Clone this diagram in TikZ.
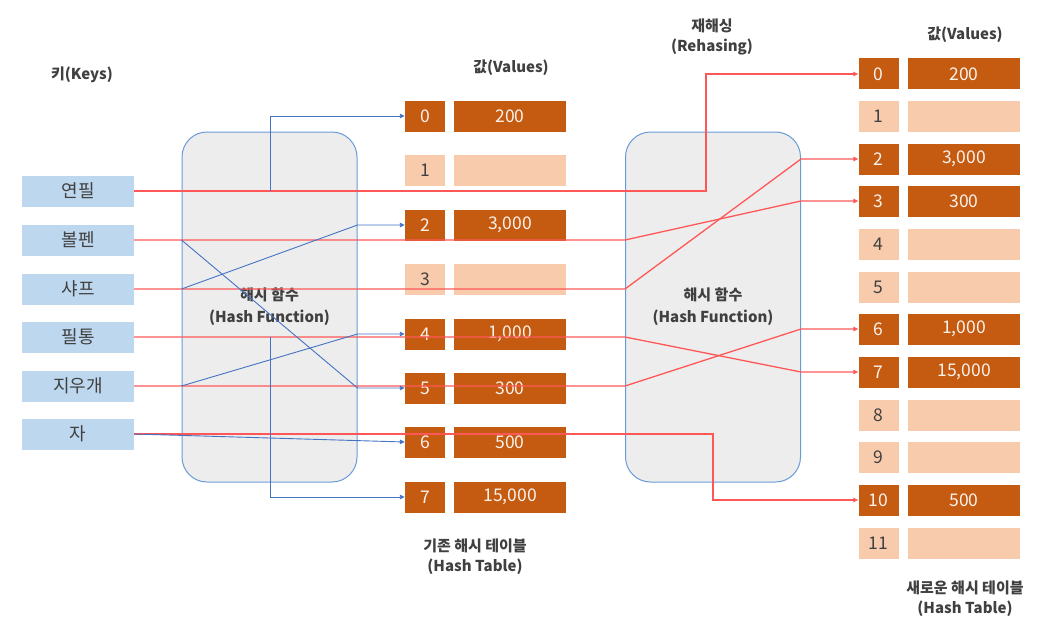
\documentclass[tikz,border=0pt]{standalone}
\usepackage{fontspec}
\setmainfont{Noto Sans CJK KR}
\usetikzlibrary{arrows.meta,calc}
\definecolor{keyblue}{HTML}{BDD7EE}
\definecolor{darkor}{HTML}{C55A11}
\definecolor{lightor}{HTML}{F8CBAD}
\definecolor{hashfill}{HTML}{EDEDED}
\definecolor{hashline}{HTML}{6A9BD8}
\definecolor{bluecol}{HTML}{4472C4}
\definecolor{redcol}{HTML}{FF5757}
\definecolor{txt}{HTML}{404040}
\begin{document}
\begin{tikzpicture}[x=1pt,y=-1pt,
  keybox/.style={fill=keyblue, minimum width=112pt, minimum height=31pt, inner sep=0pt, text=txt, font=\fontsize{18}{20}\selectfont},
  slotbase/.style={minimum height=31pt, inner sep=0pt, font=\fontsize{17.5}{20}\selectfont},
  idxfull/.style={slotbase, fill=darkor, minimum width=40pt, text=white!92!darkor},
  idxempty/.style={slotbase, fill=lightor, minimum width=40pt, text=txt},
  valfull/.style={slotbase, fill=darkor, minimum width=112pt, text=white!92!darkor},
  valempty/.style={slotbase, fill=lightor, minimum width=112pt, text=txt},
  hashbox/.style={draw=hashline, fill=hashfill, rounded corners=25pt, minimum width=175pt, minimum height=350pt, line width=1pt, align=center, text=txt, font=\bfseries\fontsize{15}{22}\selectfont},
  lbl/.style={font=\bfseries\fontsize{15}{20}\selectfont, text=txt, align=center},
  barrow/.style={draw=bluecol, line width=0.9pt, -{Triangle[length=5pt,width=4.5pt]}},
  rarrow/.style={draw=redcol, line width=1.3pt, -{Triangle[length=5pt,width=4.5pt]}}
]
\useasboundingbox (0,0) rectangle (1050,626);

% labels
\node[lbl] (lkeys) at (82,75) {키(Keys)};
\node[lbl] (lval1) at (511,68) {값(Values)};
\node[lbl] (ltab1) at (475,557) {기존 해시 테이블\\(Hash Table)};
\node[lbl] (lre) at (712,37) {재해싱\\(Rehasing)};
\node[lbl] (lval2) at (965,35) {값(Values)};
\node[lbl] (ltab2) at (965,599) {새로운 해시 테이블\\(Hash Table)};

% hash boxes
\node[hashbox] (h1) at (269.5,307) {해시 함수\\(Hash Function)};
\node[hashbox] (h2) at (713,307) {해시 함수\\(Hash Function)};

% keys
\node[keybox] (k0) at (78,191) {연필};
\node[keybox] (k1) at (78,240) {볼펜};
\node[keybox] (k2) at (78,289) {샤프};
\node[keybox] (k3) at (78,337) {필통};
\node[keybox] (k4) at (78,386) {지우개};
\node[keybox] (k5) at (78,434) {자};

% old table
\node[idxfull]  (o0) at (425,116) {0}; \node[valfull]  (ov0) at (510,116) {200};
\node[idxempty] (o1) at (425,170) {1}; \node[valempty] (ov1) at (510,170) {};
\node[idxfull]  (o2) at (425,225) {2}; \node[valfull]  (ov2) at (510,225) {3,000};
\node[idxempty] (o3) at (425,279) {3}; \node[valempty] (ov3) at (510,279) {};
\node[idxfull]  (o4) at (425,334) {4}; \node[valfull]  (ov4) at (510,334) {1,000};
\node[idxfull]  (o5) at (425,388) {5}; \node[valfull]  (ov5) at (510,388) {300};
\node[idxfull]  (o6) at (425,442) {6}; \node[valfull]  (ov6) at (510,442) {500};
\node[idxfull]  (o7) at (425,497) {7}; \node[valfull]  (ov7) at (510,497) {15,000};

% new table
\node[idxfull]  (n0)  at (878.5,74)  {0};  \node[valfull]  (nv0)  at (964,74)  {200};
\node[idxempty] (n1)  at (878.5,116) {1};  \node[valempty] (nv1)  at (964,116) {};
\node[idxfull]  (n2)  at (878.5,159) {2};  \node[valfull]  (nv2)  at (964,159) {3,000};
\node[idxfull]  (n3)  at (878.5,201) {3};  \node[valfull]  (nv3)  at (964,201) {300};
\node[idxempty] (n4)  at (878.5,244) {4};  \node[valempty] (nv4)  at (964,244) {};
\node[idxempty] (n5)  at (878.5,287) {5};  \node[valempty] (nv5)  at (964,287) {};
\node[idxfull]  (n6)  at (878.5,329) {6};  \node[valfull]  (nv6)  at (964,329) {1,000};
\node[idxfull]  (n7)  at (878.5,372) {7};  \node[valfull]  (nv7)  at (964,372) {15,000};
\node[idxempty] (n8)  at (878.5,415) {8};  \node[valempty] (nv8)  at (964,415) {};
\node[idxempty] (n9)  at (878.5,457) {9};  \node[valempty] (nv9)  at (964,457) {};
\node[idxfull]  (n10) at (878.5,500) {10}; \node[valfull]  (nv10) at (964,500) {500};
\node[idxempty] (n11) at (878.5,543) {11}; \node[valempty] (nv11) at (964,543) {};

% helper coordinates
\coordinate (b0) at (270,191);
\coordinate (b3) at (270,337);
\coordinate (rx0) at (706,0);
\coordinate (rx5) at (713,0);

% red connectors (rehashing)
\draw[rarrow] (k0.east) -- (rx0 |- k0.east) -- (rx0 |- n0.west) -- (n0.west);
\draw[rarrow] (k1.east) -- (h2.west |- k1) -- (h2.east |- n3) -- (n3.west);
\draw[rarrow] (k2.east) -- (h2.west |- k2) -- (h2.east |- n2) -- (n2.west);
\draw[rarrow] (k3.east) -- (h2.west |- k3.east) -- (h2.east |- n7) -- (n7.west);
\draw[rarrow] (k4.east) -- (h2.west |- k4) -- (h2.east |- n6) -- (n6.west);
\draw[rarrow] (k5.east) -- (rx5 |- k5.east) -- (rx5 |- n10.west) -- (n10.west);

% blue connectors (old hashing)
\draw[barrow] (b0) -- (b0 |- o0.west) -- (o0.west);
\draw[barrow] (h1.west |- k1) -- (h1.east |- o5) -- (o5.west);
\draw[barrow] (h1.west |- k2) -- (h1.east |- o2) -- (o2.west);
\draw[barrow] (b3) -- (b3 |- o7.west) -- (o7.west);
\draw[barrow] (h1.west |- k4) -- (h1.east |- o4) -- (o4.west);
\draw[barrow] (k5.east) -- (o6.west);
\end{tikzpicture}
\end{document}
